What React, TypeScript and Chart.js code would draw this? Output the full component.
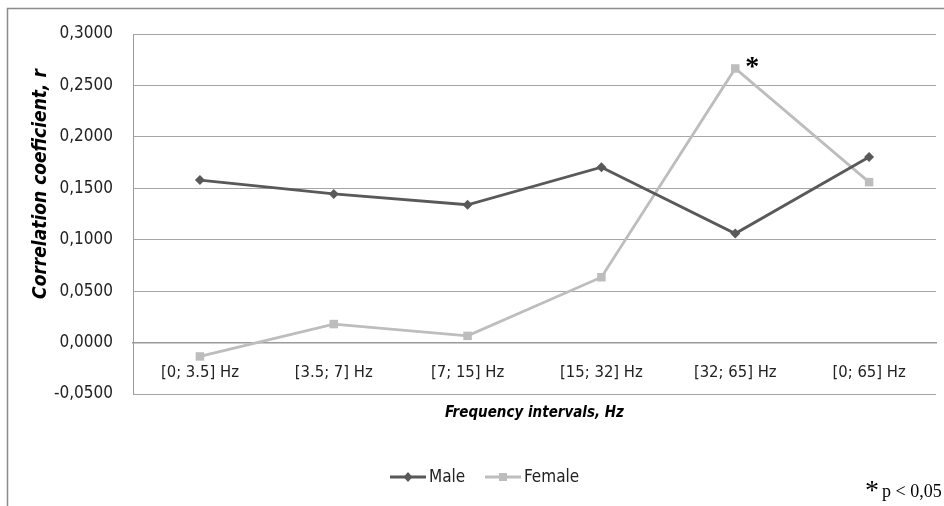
import React, { useEffect, useRef } from "react";
import { Chart, registerables } from "chart.js";

Chart.register(...registerables);

const categories = ["[0; 3.5] Hz", "[3.5; 7] Hz", "[7; 15] Hz", "[15; 32] Hz", "[32; 65] Hz", "[0; 65] Hz"];
const maleValues = [0.158, 0.1445, 0.134, 0.1705, 0.106, 0.1805];
const femaleValues = [-0.0135, 0.018, 0.0065, 0.0635, 0.2665, 0.156];
const significantFemale = [false, false, false, false, true, false];
const yTitle = "Correlation coeficient, r";
const xTitle = "Frequency intervals, Hz";
const noteText = "p < 0,05";

const FONT = "'Liberation Sans Narrow', 'DejaVu Sans Condensed', sans-serif";
const MALE_COLOR = "#595959";
const FEMALE_COLOR = "#bdbdbd";

const overlayPlugin = {
  id: "overlay",
  afterDraw(chart: any) {
    const ctx = chart.ctx;
    const area = chart.chartArea;
    ctx.save();
    // frame
    ctx.strokeStyle = "#8c8c8c";
    ctx.lineWidth = 1.5;
    ctx.beginPath();
    ctx.moveTo(7.5, 506);
    ctx.lineTo(7.5, 8.5);
    ctx.lineTo(944, 8.5);
    ctx.stroke();

    // y title
    ctx.fillStyle = "#000";
    ctx.font = `italic bold 19px ${FONT}`;
    ctx.textAlign = "center";
    ctx.textBaseline = "middle";
    ctx.save();
    ctx.translate(41, 184);
    ctx.rotate(-Math.PI / 2);
    ctx.fillText(yTitle, 0, 0);
    ctx.restore();

    // x title
    ctx.font = `italic bold 15px ${FONT}`;
    ctx.fillText(xTitle, (area.left + area.right) / 2, 413);

    // asterisks on significant points
    const meta = chart.getDatasetMeta(1);
    ctx.font = `bold 28px 'Liberation Serif', serif`;
    ctx.textAlign = "left";
    significantFemale.forEach((s, i) => {
      if (!s) return;
      const el = meta.data[i];
      ctx.fillText("*", el.x + 10, el.y - 1);
    });

    // legend
    const ly = 477;
    const drawItem = (x0: number, color: string, style: string, label: string) => {
      ctx.strokeStyle = color;
      ctx.lineWidth = 3;
      ctx.beginPath();
      ctx.moveTo(x0, ly);
      ctx.lineTo(x0 + 36, ly);
      ctx.stroke();
      ctx.fillStyle = color;
      if (style === "diamond") {
        ctx.beginPath();
        ctx.moveTo(x0 + 18, ly - 5);
        ctx.lineTo(x0 + 22.5, ly);
        ctx.lineTo(x0 + 18, ly + 5);
        ctx.lineTo(x0 + 13.5, ly);
        ctx.closePath();
        ctx.fill();
      } else {
        ctx.fillRect(x0 + 14, ly - 4, 8, 8);
      }
      ctx.fillStyle = "#222";
      ctx.font = `17px ${FONT}`;
      ctx.textAlign = "left";
      ctx.textBaseline = "middle";
      ctx.fillText(label, x0 + 39, ly + 1);
    };
    drawItem(390, MALE_COLOR, "diamond", "Male");
    drawItem(485, FEMALE_COLOR, "square", "Female");

    // note
    ctx.fillStyle = "#000";
    ctx.font = `28px 'Liberation Serif', serif`;
    ctx.textAlign = "left";
    ctx.textBaseline = "alphabetic";
    ctx.fillText("*", 865, 499);
    ctx.font = `18px 'Liberation Serif', serif`;
    ctx.fillText(noteText, 882, 497);
    ctx.restore();
  },
};

export default function App() {
  const ref = useRef<HTMLCanvasElement>(null);
  useEffect(() => {
    const chart = new Chart(ref.current!, {
      type: "line",
      data: {
        labels: categories,
        datasets: [
          {
            label: "Male",
            data: maleValues,
            borderColor: MALE_COLOR,
            backgroundColor: MALE_COLOR,
            borderWidth: 2.8,
            pointStyle: "rectRot",
            pointRadius: 5,
            pointBorderWidth: 0,
            tension: 0,
          },
          {
            label: "Female",
            data: femaleValues,
            borderColor: FEMALE_COLOR,
            backgroundColor: FEMALE_COLOR,
            borderWidth: 2.8,
            pointStyle: "rect",
            pointRadius: 6,
            pointBorderWidth: 0,
            tension: 0,
          },
        ],
      },
      options: {
        animation: false,
        responsive: false,
        layout: { padding: { left: 0, top: 34, right: 8, bottom: 112 } },
        plugins: { legend: { display: false }, tooltip: { enabled: false } },
        scales: {
          x: {
            position: { y: 0 },
            offset: true,
            grid: { display: false },
            border: { display: true, color: "#9a9a9a", width: 1.5 },
            ticks: {
              color: "#222",
              font: { family: FONT, size: 16.5 },
              padding: 12,
              maxRotation: 0,
            },
          },
          y: {
            min: -0.05,
            max: 0.3,
            afterFit: (s: any) => {
              s.width = 133;
            },
            grid: { color: "#a6a6a6", lineWidth: 1, drawTicks: false },
            border: { display: true, color: "#9a9a9a", width: 1 },
            ticks: {
              stepSize: 0.05,
              padding: 20,
              color: "#222",
              font: { family: FONT, size: 17 },
              callback: (v: any) => {
                const n = Math.abs(Number(v)) < 1e-9 ? 0 : Number(v);
                return n.toFixed(4).replace(".", ",");
              },
            },
          },
        },
      },
      plugins: [overlayPlugin],
    });
    return () => chart.destroy();
  }, []);
  return (
    <div style={{ position: "fixed", left: 0, top: 0, width: 944, height: 506, background: "#fff" }}>
      <canvas ref={ref} width={944} height={506} style={{ width: 944, height: 506 }} />
    </div>
  );
}
